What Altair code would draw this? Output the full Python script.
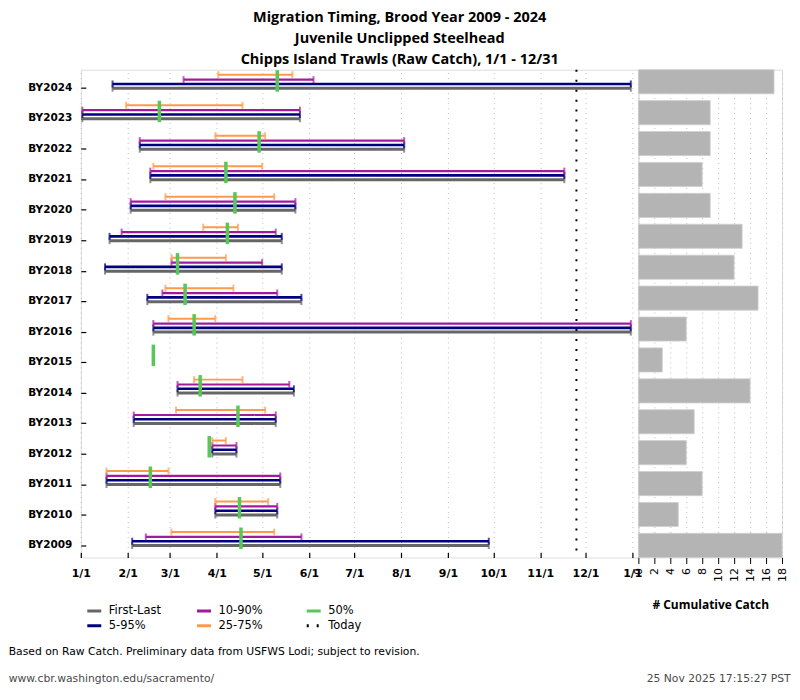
import altair as alt
import pandas as pd

YEAR = 2001  # dummy non-leap year used to place month/day values on a day-of-year axis

years = [2024, 2023, 2022, 2021, 2020, 2019, 2018, 2017, 2016, 2015, 2014, 2013, 2012, 2011, 2010, 2009]
row_labels = ["BY%d" % y for y in years]

first_last_start = ["01-22", "01-02", "02-09", "02-16", "02-03", "01-20", "01-17", "02-14", "02-18", None,
                    "03-06", "02-05", "03-29", "01-18", "03-31", "02-04"]
first_last_end = ["12-31", "05-26", "08-03", "11-17", "05-23", "05-14", "05-14", "05-27", "12-31", None,
                  "05-22", "05-10", "04-14", "05-13", "05-11", "09-28"]
p05_start = ["01-22", "01-02", "02-09", "02-16", "02-03", "01-20", "01-17", "02-14", "02-18", None,
             "03-06", "02-05", "03-29", "01-18", "03-31", "02-04"]
p05_end = ["12-31", "05-26", "08-03", "11-17", "05-23", "05-14", "05-14", "05-27", "12-31", None,
           "05-22", "05-10", "04-14", "05-13", "05-11", "09-28"]
p10_start = ["03-10", "01-02", "02-09", "02-16", "02-03", "01-28", "03-02", "02-24", "02-18", None,
             "03-06", "02-05", "03-29", "01-18", "03-31", "02-13"]
p10_end = ["06-04", "05-26", "08-03", "11-17", "05-23", "05-10", "05-01", "05-11", "12-31", None,
           "05-19", "05-10", "04-14", "05-13", "05-11", "05-27"]
p25_start = ["04-02", "01-31", "03-31", "02-18", "02-26", "03-23", "03-02", "02-26", "02-28", None,
             "03-17", "03-05", "03-29", "01-18", "03-31", "03-02"]
p25_end = ["05-21", "04-18", "05-03", "05-01", "05-09", "04-15", "04-07", "04-12", "03-31", None,
           "04-18", "05-03", "04-07", "02-28", "05-05", "05-09"]
median_day = ["05-11", "02-22", "04-29", "04-07", "04-13", "04-08", "03-06", "03-11", "03-17", "02-18",
              "03-21", "04-15", "03-27", "02-16", "04-16", "04-17"]
cumulative_catch = [17, 9, 9, 8, 9, 13, 12, 15, 6, 3, 14, 7, 6, 8, 5, 18]
today_day = "11-25"

legend_order = ["First-Last", "5-95%", "10-90%", "25-75%", "50%", "Today"]
legend_colors = ["#666666", "#000080", "#a3199e", "#ff9a4a", "#55c855", "#000000"]
legend_dashes = [[1, 0], [1, 0], [1, 0], [1, 0], [1, 0], [2, 8]]

title_lines = ["Migration Timing, Brood Year 2009 - 2024",
               "Juvenile Unclipped Steelhead",
               "Chipps Island Trawls (Raw Catch), 1/1 - 12/31"]
footnote = "Based on Raw Catch. Preliminary data from USFWS Lodi; subject to revision."
site = "www.cbr.washington.edu/sacramento/"
stamp = "25 Nov 2025 17:15:27 PST"


def to_date(md, year=YEAR):
    return f"{year}-{md}T00:00:00"


def range_frame(name, starts, ends):
    rows = []
    for lab, s, e in zip(row_labels, starts, ends):
        if s is None or e is None:
            continue
        rows.append({"label": lab, "start": to_date(s), "end": to_date(e), "series": name})
    return pd.DataFrame(rows)


W_LEFT, W_RIGHT, H = 559, 144, 489

xscale = alt.Scale(domain=[alt.DateTime(year=YEAR, month=1, date=1),
                           alt.DateTime(year=YEAR + 1, month=1, date=5)])
tick_values = [alt.DateTime(year=YEAR, month=m, date=1) for m in range(1, 13)] + \
              [alt.DateTime(year=YEAR + 1, month=1, date=1)]
yscale = alt.Scale(domain=row_labels, paddingInner=0, paddingOuter=0)
cscale = alt.Scale(domain=legend_order, range=legend_colors)
dscale = alt.Scale(domain=legend_order, range=legend_dashes)

GRID = dict(grid=True, gridDash=[1, 4], gridColor="#bbbbbb", gridWidth=1)

main_x_axis = alt.Axis(values=tick_values, format="%-m/%-d", title=None, ticks=False, domain=False,
                       labelFont="DejaVu Sans", labelFontWeight="bold", labelFontSize=11,
                       labelPadding=10, labelColor="black", labelFlush=False, **GRID)
tick_x_axis = alt.Axis(values=tick_values, orient="bottom", offset=-5, tickSize=5, tickWidth=1.2,
                       tickColor="black", labels=False, domain=False, grid=False, title=None)
main_y_axis = alt.Axis(title=None, ticks=False, domain=False, bandPosition=0.612, labelPadding=9,
                       labelOffset=3, labelFont="DejaVu Sans", labelFontWeight="bold",
                       labelFontSize=10.5, labelColor="black")
tick_y_axis = alt.Axis(orient="left", offset=-5, tickSize=5, tickWidth=1.2, tickColor="black",
                       bandPosition=0.612, labels=False, domain=False, grid=False, title=None)

legend = alt.Legend(
    title=None, orient="none", legendX=5, legendY=534, columns=3, symbolType="stroke",
    symbolSize=196, symbolStrokeWidth=3, symbolOpacity=1, labelFont="DejaVu Sans",
    labelFontSize=11.5, labelColor="black", labelOffset=6, columnPadding=29, rowPadding=-2,
    gridAlign="all", padding=0,
)

# style per series: (name, starts, ends, stroke width, y offset from band centre)
series_specs = [
    ("First-Last", first_last_start, first_last_end, 3.0, 3.3),
    ("5-95%", p05_start, p05_end, 2.6, -1.0),
    ("10-90%", p10_start, p10_end, 2.2, -5.3),
    ("25-75%", p25_start, p25_end, 2.0, -10.2),
]

layers = []
for i, (name, s, e, sw, off) in enumerate(series_specs):
    df = range_frame(name, s, e)
    if i == 0:
        xa, ya = main_x_axis, main_y_axis
    elif i == 1:
        xa, ya = tick_x_axis, tick_y_axis
    else:
        xa, ya = None, None
    color = alt.Color("series:N", scale=cscale, legend=legend)
    dash = alt.StrokeDash("series:N", scale=dscale, legend=legend)
    rule = alt.Chart(df).mark_rule(strokeWidth=sw, yOffset=off).encode(
        x=alt.X("start:T", scale=xscale, axis=xa),
        x2="end:T",
        y=alt.Y("label:N", scale=yscale, axis=ya),
        color=color,
        strokeDash=dash,
    )
    cap_s = alt.Chart(df).mark_tick(size=7, thickness=2, yOffset=off).encode(
        x=alt.X("start:T", scale=xscale, axis=None),
        y=alt.Y("label:N", scale=yscale, axis=None),
        color=color,
    )
    cap_e = alt.Chart(df).mark_tick(size=7, thickness=2, yOffset=off).encode(
        x=alt.X("end:T", scale=xscale, axis=None),
        y=alt.Y("label:N", scale=yscale, axis=None),
        color=color,
    )
    layers += [rule, cap_s, cap_e]

med_df = pd.DataFrame({"label": row_labels, "date": [to_date(m) for m in median_day], "series": "50%"})
median_layer = alt.Chart(med_df).mark_tick(size=21.5, thickness=3.5, yOffset=-4.0, opacity=1).encode(
    x=alt.X("date:T", scale=xscale, axis=None),
    y=alt.Y("label:N", scale=yscale, axis=None),
    color=alt.Color("series:N", scale=cscale, legend=legend),
)

today_df = pd.DataFrame({"date": [to_date(today_day)], "series": ["Today"]})
today_layer = alt.Chart(today_df).mark_rule(strokeWidth=2).encode(
    x=alt.X("date:T", scale=xscale, axis=None),
    color=alt.Color("series:N", scale=cscale, legend=legend),
    strokeDash=alt.StrokeDash("series:N", scale=dscale, legend=legend),
)

foot1 = alt.Chart(pd.DataFrame({"t": [footnote]})).mark_text(
    align="left", baseline="middle", font="DejaVu Sans", fontSize=10.8, color="black").encode(
    text="t:N", x=alt.value(-72.3), y=alt.value(583.5))
foot2 = alt.Chart(pd.DataFrame({"t": [site]})).mark_text(
    align="left", baseline="middle", font="DejaVu Sans", fontSize=10.8, color="#4a4a4a").encode(
    text="t:N", x=alt.value(-72.3), y=alt.value(611))
foot3 = alt.Chart(pd.DataFrame({"t": [stamp]})).mark_text(
    align="right", baseline="middle", font="DejaVu Sans", fontSize=10.8, color="#4a4a4a").encode(
    text="t:N", x=alt.value(711.7), y=alt.value(611))

left = alt.layer(*layers, median_layer, today_layer, foot1, foot2, foot3).resolve_axis(
    x="independent", y="independent").properties(width=W_LEFT, height=H)

bar_df = pd.DataFrame({"label": row_labels, "catch": cumulative_catch})
right = alt.Chart(bar_df).mark_bar(color="#b4b4b4", stroke="#cfcfcf", strokeWidth=0.8).encode(
    x=alt.X("catch:Q", scale=alt.Scale(domain=[0, 18], nice=False),
            axis=alt.Axis(values=list(range(0, 19, 2)), labelAngle=270, tickSize=6, tickColor="black",
                          domain=False, title="# Cumulative Catch", titleFont="Open Sans",
                          titleFontWeight="bold", titleFontSize=12, titleColor="black", titlePadding=18,
                          labelFont="DejaVu Sans", labelFontSize=11, labelColor="black",
                          labelPadding=4, labelFlush=False, **GRID)),
    y=alt.Y("label:N", scale=alt.Scale(domain=row_labels, paddingInner=0.22, paddingOuter=0), axis=None),
).properties(width=W_RIGHT, height=H)

chart = alt.hconcat(left, right, spacing=0, bounds="flush").properties(
    title=alt.Title(title_lines, font="Open Sans", fontSize=14.5, fontWeight="bold", lineHeight=21,
                    anchor="middle", offset=1, color="black"),
    padding={"left": 0, "top": 1, "right": 0, "bottom": 0},
).configure_view(stroke="black", strokeWidth=1.5).configure(background="white")

chart.save("out.html", embed_options={"renderer": "svg", "actions": False})
